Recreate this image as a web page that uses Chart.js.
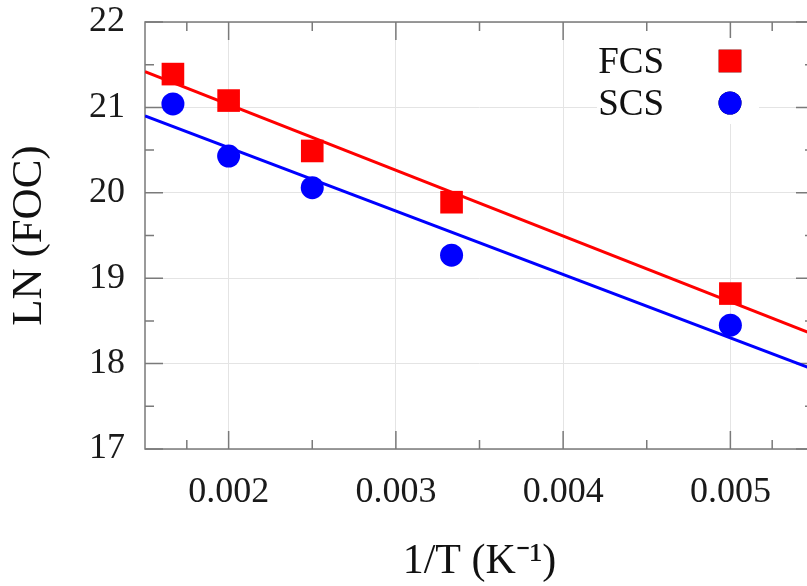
<!DOCTYPE html>
<html>
<head>
<meta charset="utf-8">
<script src="https://cdn.jsdelivr.net/npm/chart.js@4.4.1/dist/chart.umd.min.js"></script>
<style>
  html, body { margin: 0; padding: 0; background: #fff; overflow: hidden; }
  #wrap { position: relative; width: 830px; height: 586px; }
</style>
</head>
<body>
<div id="wrap"><canvas id="chart"></canvas></div>
<script>
// 1/T (K^-1) at 600, 500, 400, 300, 200 K
const invT = [0.001667, 0.002, 0.0025, 0.003333, 0.005];
const fcsLn = [21.39, 21.08, 20.49, 19.89, 18.82];
const scsLn = [21.04, 20.43, 20.06, 19.27, 18.45];

// linear fits, read at the axis ends
const fitX = [0.0015, 0.0055];
const fcsFit = [21.42, 18.34];
const scsFit = [20.90, 17.93];

const xTicks = [0.002, 0.003, 0.004, 0.005];
const yTicks = [17, 18, 19, 20, 21, 22];

const SERIF = "'Liberation Serif', 'Times New Roman', serif";

const pts = (xs, ys) => xs.map((x, i) => ({ x, y: ys[i] }));

// gnuplot-ish frame: full border, inward major + minor ticks on all four sides
const framePlugin = {
    id: 'frame',
    beforeDatasetsDraw(chart) {
        const { ctx, chartArea: a, scales: { x, y } } = chart;
        ctx.save();
        ctx.strokeStyle = '#7a7a7a';
        ctx.lineWidth = 1.5;
        ctx.beginPath();
        const tick = (x0, y0, x1, y1) => { ctx.moveTo(x0, y0); ctx.lineTo(x1, y1); };
        const xs = [x.min, ...xTicks, x.max];
        xs.forEach((v, i) => {
            const px = x.getPixelForValue(v);
            if (i > 0 && i < xs.length - 1) {
                tick(px, a.bottom, px, a.bottom - 18);
                tick(px, a.top, px, a.top + 18);
            }
            if (i < xs.length - 1) {
                const m = x.getPixelForValue((v + xs[i + 1]) / 2);
                tick(m, a.bottom, m, a.bottom - 9);
                tick(m, a.top, m, a.top + 9);
            }
        });
        yTicks.forEach((v, i) => {
            const py = y.getPixelForValue(v);
            tick(a.left, py, a.left + 18, py);
            tick(a.right, py, a.right - 18, py);
            if (i < yTicks.length - 1) {
                const m = y.getPixelForValue(v + 0.5);
                tick(a.left, m, a.left + 9, m);
                tick(a.right, m, a.right - 9, m);
            }
        });
        ctx.stroke();
        ctx.strokeRect(a.left, a.top, a.right - a.left, a.bottom - a.top);
        ctx.restore();
    }
};

// key in the top right corner: text first, then the sample marker
const keyPlugin = {
    id: 'key',
    afterDatasetsDraw(chart) {
        const { ctx, chartArea: a } = chart;
        const textRight = a.right - 150;
        const markX = a.right - 84;
        ctx.save();
        ctx.fillStyle = '#fff';
        ctx.fillRect(a.right - 217, a.top + 16, 162, 86);
        ctx.font = '37px ' + SERIF;
        ctx.textAlign = 'right';
        ctx.textBaseline = 'middle';
        [0, 1].forEach((i) => {
            const ds = chart.data.datasets[i];
            const cy = a.top + 39 + i * 42;
            ctx.fillStyle = '#111';
            ctx.fillText(ds.label, textRight, cy + 2);
            Chart.helpers.drawPoint(ctx, {
                pointStyle: ds.pointStyle,
                radius: ds.pointRadius,
                borderWidth: 0,
                rotation: 0
            }, markX, cy);
            ctx.fillStyle = ds.backgroundColor;
            ctx.fill();
        });
        ctx.restore();
    }
};

new Chart(document.getElementById('chart'), {
    type: 'scatter',
    data: {
        datasets: [
            {
                label: 'FCS',
                data: pts(invT, fcsLn),
                pointStyle: 'rect',
                pointRadius: 16,
                pointBorderWidth: 0,
                backgroundColor: '#ff0000',
                borderColor: '#ff0000',
                order: 0
            },
            {
                label: 'SCS',
                data: pts(invT, scsLn),
                pointStyle: 'circle',
                pointRadius: 11.5,
                pointBorderWidth: 0,
                backgroundColor: '#0000ff',
                borderColor: '#0000ff',
                order: 0
            },
            {
                label: 'FCS fit',
                data: pts(fitX, fcsFit),
                showLine: true,
                pointRadius: 0,
                borderColor: '#ff0000',
                borderWidth: 3,
                order: 1
            },
            {
                label: 'SCS fit',
                data: pts(fitX, scsFit),
                showLine: true,
                pointRadius: 0,
                borderColor: '#0000ff',
                borderWidth: 3,
                order: 1
            }
        ]
    },
    options: {
        responsive: true,
        maintainAspectRatio: false,
        animation: false,
        layout: { padding: { top: 0, right: 15, left: 0, bottom: 0 } },
        plugins: {
            legend: { display: false },
            tooltip: { enabled: false }
        },
        scales: {
            x: {
                type: 'linear',
                min: 0.0015,
                max: 0.0055,
                afterBuildTicks: (s) => { s.ticks = xTicks.map((v) => ({ value: v })); },
                afterFit: (s) => { s.height = 137; },
                ticks: {
                    padding: 26,
                    color: '#1a1a1a',
                    font: { family: SERIF, size: 36, lineHeight: 1.0 },
                    callback: (v) => v.toFixed(3)
                },
                grid: { color: '#e4e4e4', lineWidth: 1, drawTicks: false },
                border: { display: false },
                title: {
                    display: true,
                    text: '1/T (K⁻¹)',
                    color: '#111',
                    font: { family: SERIF, size: 42, lineHeight: 1.0 },
                    padding: { top: 0, bottom: 3 }
                }
            },
            y: {
                min: 17,
                max: 22,
                afterBuildTicks: (s) => { s.ticks = yTicks.map((v) => ({ value: v })); },
                afterFit: (s) => { s.width = 145; },
                ticks: {
                    // small line height keeps the top label from pushing the plot down
                    padding: 20,
                    color: '#1a1a1a',
                    font: { family: SERIF, size: 36, lineHeight: '4px' }
                },
                grid: { color: '#e4e4e4', lineWidth: 1, drawTicks: false },
                border: { display: false },
                title: {
                    display: true,
                    text: 'LN (FOC)',
                    color: '#111',
                    font: { family: SERIF, size: 43, lineHeight: 1.0 },
                    padding: { top: 8, bottom: 0 }
                }
            }
        }
    },
    plugins: [framePlugin, keyPlugin]
});
</script>
</body>
</html>
